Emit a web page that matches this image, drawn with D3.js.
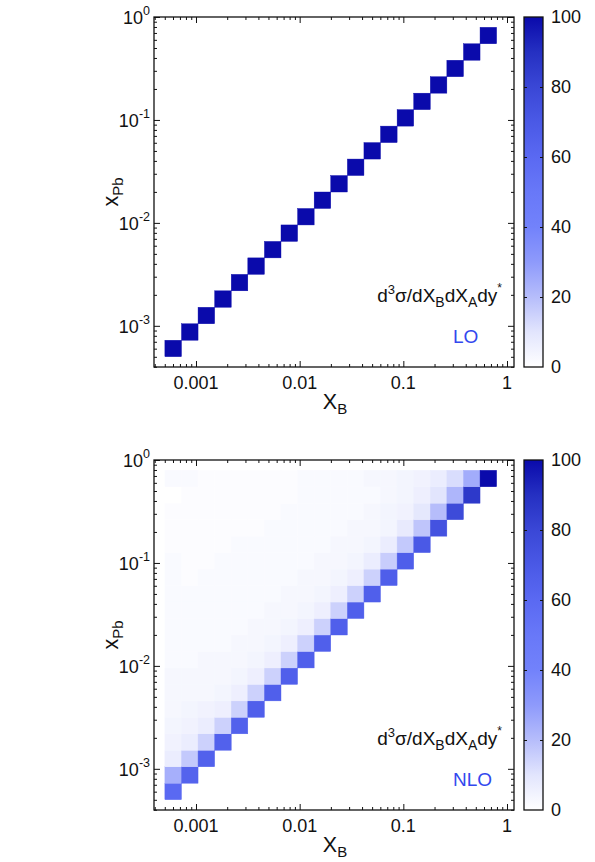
<!DOCTYPE html>
<html>
<head>
<meta charset="utf-8">
<script src="https://cdn.jsdelivr.net/npm/d3@7"></script>
<style>
  body { margin: 0; background: #fff; }
  text { font-family: "Liberation Sans", Arial, Helvetica, sans-serif; fill: #111; }
</style>
</head>
<body>
<script>
// bin edges in x_B and x_Pb (log spaced)
var binEdges = [5.012e-4, 7.244e-4, 1.047e-3, 1.514e-3, 2.188e-3, 3.162e-3, 4.571e-3, 6.607e-3,
  9.550e-3, 1.380e-2, 1.995e-2, 2.884e-2, 4.169e-2, 6.026e-2, 8.710e-2, 0.1259, 0.1820,
  0.2630, 0.3802, 0.5495, 0.7943];

// LO : only the diagonal is filled
var loDiag = [100, 100, 100, 100, 100, 100, 100, 100, 100, 100,
              100, 100, 100, 100, 100, 100, 100, 100, 100, 100];

// NLO : row j (x_Pb bin, bottom up) holds values for x_B bins 0..j
var nloRows = [
  [60],
  [24, 64],
  [7, 17, 65],
  [5, 7, 15, 65],
  [4, 5, 7, 15, 65],
  [3, 4, 5, 6, 15, 66],
  [3, 3, 3, 4, 6, 15, 66],
  [3, 3, 3, 3, 4, 6, 15, 66],
  [2, 2, 3, 3, 3, 4, 6, 15, 66],
  [2, 2, 2, 2, 3, 3, 4, 6, 15, 66],
  [2, 2, 2, 2, 2, 3, 3, 4, 6, 15, 66],
  [2, 2, 2, 2, 2, 2, 3, 3, 4, 6, 15, 66],
  [2, 2, 2, 2, 2, 2, 2, 3, 3, 4, 6, 15, 66],
  [2, 1, 2, 2, 2, 2, 2, 2, 3, 3, 4, 6, 15, 67],
  [2, 1, 1, 2, 2, 2, 2, 2, 2, 3, 3, 4, 7, 16, 67],
  [1, 1, 1, 1, 2, 2, 2, 2, 2, 2, 3, 3, 4, 7, 17, 70],
  [1, 1, 1, 1, 1, 1, 2, 2, 2, 2, 2, 3, 3, 4, 8, 18, 74],
  [1, 1, 1, 1, 1, 1, 1, 2, 2, 2, 2, 2, 3, 4, 5, 9, 20, 78],
  [0, 1, 1, 1, 1, 1, 1, 1, 2, 2, 2, 2, 2, 3, 4, 6, 10, 22, 86],
  [2, 2, 1, 1, 1, 1, 1, 1, 2, 2, 2, 2, 3, 3, 4, 5, 7, 12, 25, 100]
];

var xMajor = [0.001, 0.01, 0.1, 1];
var xMajorLabels = ["0.001", "0.01", "0.1", "1"];
var yMajor = [1e-3, 1e-2, 1e-1, 1];
var yExp = ["-3", "-2", "-1", "0"];
var cbTicks = [0, 20, 40, 60, 80, 100];

// colour map 0..100
var cmapStops = [0, 10, 20, 30, 40, 50, 60, 70, 80, 90, 100];
var cmapColors = ["#ffffff", "#e2e5fd", "#b6bdfb", "#8e9afb", "#7282fb", "#6878f8",
                  "#5a69f2", "#4a59e6", "#3a47d6", "#2530c2", "#0a0aab"];

var W = 595, H = 862;
var svg = d3.select("body").append("svg")
    .attr("width", W)
    .attr("height", H);
svg.append("rect").attr("width", W).attr("height", H).attr("fill", "#fff");

var color = d3.scaleLinear().domain(cmapStops).range(cmapColors);

var L = 154, R = 514, PH = 350;
var FS = 18;

function sup(t, main, s) {
  t.append("tspan").text(main);
  t.append("tspan").attr("dy", -9).attr("font-size", 12.5).text(s);
}

function drawPanel(top, cells, tag) {
  var g = svg.append("g");
  var x = d3.scaleLog().domain([Math.pow(10, -3.405), Math.pow(10, 0.0675)]).range([L, R]);
  var y = d3.scaleLog().domain([Math.pow(10, -3.4), 1]).range([top + PH, top]);

  g.selectAll("rect.cell").data(cells).enter().append("rect")
    .attr("class", "cell")
    .attr("x", function(d){ return x(binEdges[d.i]); })
    .attr("y", function(d){ return y(binEdges[d.j + 1]); })
    .attr("width", function(d){ return x(binEdges[d.i + 1]) - x(binEdges[d.i]); })
    .attr("height", function(d){ return y(binEdges[d.j]) - y(binEdges[d.j + 1]); })
    .attr("fill", function(d){ return color(d.v); })
    .attr("stroke", function(d){ return color(d.v); })
    .attr("stroke-width", 0.4);

  var xMinor = x.ticks().filter(function(v){ return xMajor.indexOf(v) < 0; });
  var yMinor = y.ticks().filter(function(v){ return yMajor.indexOf(v) < 0; });

  // ticks pointing inward on all four sides
  var axes = [
    [d3.axisBottom(x), top + PH, -6, -3, xMajor, xMinor, 0],
    [d3.axisTop(x), top, -6, -3, xMajor, xMinor, 0],
    [d3.axisLeft(y), 0, -6, -3, yMajor, yMinor, L],
    [d3.axisRight(y), 0, -6, -3, yMajor, yMinor, R]
  ];
  axes.forEach(function(a){
    var isX = a[6] === 0;
    var tr = isX ? "translate(0," + a[1] + ")" : "translate(" + a[6] + ",0)";
    g.append("g").attr("transform", tr)
      .call(a[0].tickValues(a[4]).tickSize(a[2]).tickFormat(""))
      .call(function(s){ s.select(".domain").remove(); s.selectAll("line").attr("stroke", "#111").attr("stroke-width", 1); });
    g.append("g").attr("transform", tr)
      .call(a[0].tickValues(a[5]).tickSize(a[3]).tickFormat(""))
      .call(function(s){ s.select(".domain").remove(); s.selectAll("line").attr("stroke", "#111").attr("stroke-width", 1); });
  });

  g.append("rect").attr("x", L).attr("y", top).attr("width", R - L).attr("height", PH)
    .attr("fill", "none").attr("stroke", "#111").attr("stroke-width", 1.3);

  // x labels
  g.selectAll("text.xl").data(xMajor).enter().append("text")
    .attr("x", function(d){ return x(d); })
    .attr("y", top + PH + 22)
    .attr("text-anchor", "middle")
    .attr("font-size", FS)
    .text(function(d, i){ return xMajorLabels[i]; });

  // y labels 10^n
  g.selectAll("text.yl").data(yMajor).enter().append("text")
    .attr("x", 150)
    .attr("y", function(d){ return y(d) + 7; })
    .attr("text-anchor", "end")
    .attr("font-size", FS)
    .each(function(d, i){ sup(d3.select(this), "10", yExp[i]); });

  // axis titles
  var xt = g.append("text").attr("x", 335).attr("y", top + PH + 42)
    .attr("text-anchor", "middle").attr("font-size", 21.5);
  xt.append("tspan").text("X");
  xt.append("tspan").attr("dy", 5).attr("font-size", 15).text("B");

  var yt = g.append("text").attr("transform", "translate(118," + (top + 175) + ") rotate(-90)")
    .attr("text-anchor", "middle").attr("font-size", 21.5);
  yt.append("tspan").text("x");
  yt.append("tspan").attr("dy", 5).attr("font-size", 15).text("Pb");

  // annotation
  var an = g.append("text").attr("x", 502).attr("y", top + 285)
    .attr("text-anchor", "end").attr("font-size", 19);
  an.append("tspan").text("d");
  an.append("tspan").attr("dy", -8).attr("font-size", 13).text("3");
  an.append("tspan").attr("dy", 8).text("σ/dX");
  an.append("tspan").attr("dy", 5).attr("font-size", 14).text("B");
  an.append("tspan").attr("dy", -5).text("dX");
  an.append("tspan").attr("dy", 5).attr("font-size", 14).text("A");
  an.append("tspan").attr("dy", -5).text("dy");
  an.append("tspan").attr("dy", -10).attr("font-size", 12).text("*");

  g.append("text").attr("x", 453).attr("y", top + 326)
    .attr("font-size", 19).style("fill", "#3348ee").text(tag);

  // colour bar
  var cbx = 524, cbw = 19;
  var cb = d3.scaleLinear().domain([0, 100]).range([top + PH, top]);
  var gid = "grad" + top;
  var grad = svg.append("defs").append("linearGradient").attr("id", gid)
    .attr("x1", 0).attr("y1", 1).attr("x2", 0).attr("y2", 0);
  grad.selectAll("stop").data(cmapStops).enter().append("stop")
    .attr("offset", function(d){ return d / 100; })
    .attr("stop-color", function(d, i){ return cmapColors[i]; });
  g.append("rect").attr("x", cbx).attr("y", top).attr("width", cbw).attr("height", PH)
    .attr("fill", "url(#" + gid + ")").attr("stroke", "#111").attr("stroke-width", 1.3);
  var inner = cbTicks.filter(function(v){ return v > 0 && v < 100; });
  g.append("g").attr("transform", "translate(" + cbx + ",0)")
    .call(d3.axisRight(cb).tickValues(inner).tickSize(3).tickFormat(""))
    .call(function(s){ s.select(".domain").remove(); s.selectAll("line").attr("stroke", "#111"); });
  g.append("g").attr("transform", "translate(" + (cbx + cbw) + ",0)")
    .call(d3.axisLeft(cb).tickValues(inner).tickSize(3).tickFormat(""))
    .call(function(s){ s.select(".domain").remove(); s.selectAll("line").attr("stroke", "#111"); });
  g.selectAll("text.cbl").data(cbTicks).enter().append("text")
    .attr("x", 551)
    .attr("y", function(d){ return cb(d) + 6; })
    .attr("font-size", FS)
    .text(function(d){ return d; });
}

var loCells = loDiag.map(function(v, i){ return {i: i, j: i, v: v}; });
var nloCells = [];
nloRows.forEach(function(row, j){
  row.forEach(function(v, i){ nloCells.push({i: i, j: j, v: v}); });
});

drawPanel(17, loCells, "LO");
drawPanel(460, nloCells, "NLO");
</script>
</body>
</html>
